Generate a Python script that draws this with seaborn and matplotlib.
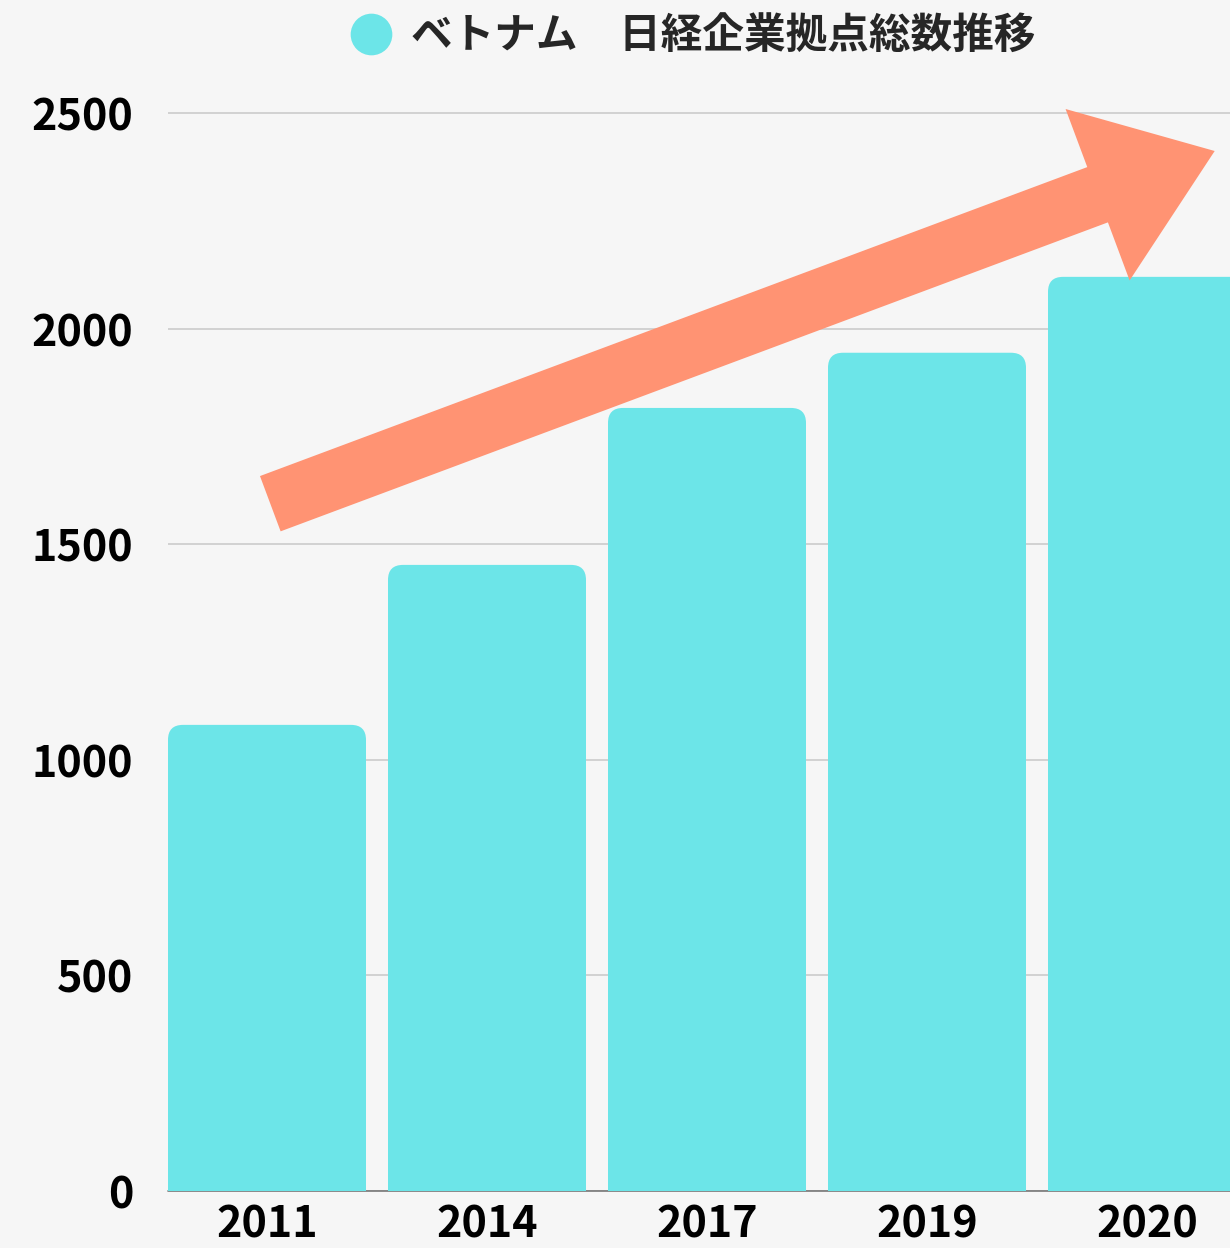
import matplotlib
matplotlib.use("Agg")
import matplotlib.pyplot as plt
import matplotlib.patches as mpatches
from matplotlib.lines import Line2D
import pandas as pd
import seaborn as sns

# data
years = ["2011", "2014", "2017", "2019", "2020"]
counts = [1081, 1452, 1816, 1944, 2120]
series_label = "ベトナム\u3000日経企業拠点総数推移"
y_ticks = [0, 500, 1000, 1500, 2000, 2500]

BAR_COLOR = "#6CE5E8"
ARROW_COLOR = "#FF9373"
BG = "#F6F6F6"
FONTS = ["Noto Sans CJK JP", "DejaVu Sans"]

sns.set_theme(style="white")
plt.rcParams["font.family"] = FONTS

df = pd.DataFrame({"year": years, "count": counts})

W, H = 1230, 1248
fig = plt.figure(figsize=(W / 100, H / 100), dpi=100, facecolor=BG)
ax = fig.add_axes([168 / W, 1 - 1191 / H, 1 - 168 / W, (1191 - 100) / H])
ax.set_facecolor(BG)

sns.barplot(data=df, x="year", y="count", color=BAR_COLOR, width=0.9,
            saturation=1, ax=ax, zorder=2)

px_per_x = 220.0
px_per_y = 1078 / 2500
ax.set_xlim(-0.45, -0.45 + (W - 168) / px_per_x)
ax.set_ylim(0, (1191 - 100) / px_per_y)

# swap plain bars for ones with rounded tops
radius = 15 / px_per_x
aspect = px_per_x / px_per_y
for p in list(ax.patches):
    x, w, h = p.get_x(), p.get_width(), p.get_height()
    p.remove()
    ax.add_patch(mpatches.FancyBboxPatch(
        (x, -200), w, h + 200,
        boxstyle=f"round,pad=0,rounding_size={radius}",
        mutation_aspect=aspect, fc=BAR_COLOR, ec="none", zorder=2))

ax.set_yticks(y_ticks)
ax.yaxis.grid(True, color="#C8C8C8", lw=1.1)
ax.xaxis.grid(False)
ax.set_axisbelow(True)
ax.axhline(0, color="#777777", lw=1.2, zorder=1, clip_on=False)
sns.despine(ax=ax, left=True, bottom=True)

ax.set_xlabel("")
ax.set_ylabel("")
ax.tick_params(axis="y", length=0, labelsize=31, pad=25)
ax.tick_params(axis="x", length=0, labelsize=31, pad=8)
for lbl in ax.get_xticklabels() + ax.get_yticklabels():
    lbl.set_fontweight("bold")
    lbl.set_color("black")

# trend arrow, laid out in figure inches
tail = (270.3, 503.7)
tip = (1214.7, 151.0)
arrow = mpatches.FancyArrow(
    tail[0] / 100, (H - tail[1]) / 100,
    (tip[0] - tail[0]) / 100, (tail[1] - tip[1]) / 100,
    width=0.59, head_width=1.83, head_length=1.25,
    length_includes_head=True, transform=fig.dpi_scale_trans,
    color=ARROW_COLOR, lw=0, zorder=3, clip_on=False)
ax.add_patch(arrow)

handle = Line2D([], [], marker="o", ls="", markersize=30,
                markerfacecolor=BAR_COLOR, markeredgewidth=0)
ax.legend(handles=[handle], labels=[series_label], loc="center",
          bbox_to_anchor=(693 / W, 1 - 37 / H), bbox_transform=fig.transFigure,
          frameon=False, handlelength=1.0, handletextpad=0.45, borderpad=0,
          prop={"family": FONTS, "weight": "bold", "size": 30})

fig.savefig("out.png", dpi=100, facecolor=BG)
